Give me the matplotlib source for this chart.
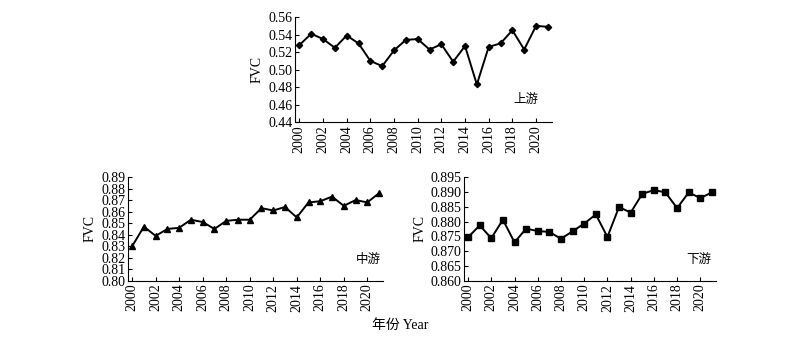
import matplotlib
matplotlib.use("Agg")
import matplotlib.pyplot as plt
import numpy as np

plt.rcParams['font.family'] = ['Liberation Serif', 'Noto Sans CJK SC']
plt.rcParams['font.size'] = 10

years = list(range(2000, 2022))
upper = [0.528, 0.541, 0.535, 0.525, 0.539, 0.530, 0.510, 0.504, 0.522, 0.534, 0.535,
         0.523, 0.529, 0.509, 0.527, 0.483, 0.526, 0.530, 0.545, 0.523, 0.550, 0.549]
middle = [0.830, 0.847, 0.839, 0.845, 0.846, 0.853, 0.851, 0.845, 0.852, 0.853, 0.853,
          0.863, 0.861, 0.864, 0.855, 0.868, 0.869, 0.873, 0.865, 0.870, 0.868, 0.876]
lower = [0.8747, 0.8787, 0.8744, 0.8806, 0.8730, 0.8776, 0.8768, 0.8765, 0.8742, 0.8767, 0.8793,
         0.8824, 0.8748, 0.8849, 0.8830, 0.8893, 0.8906, 0.8898, 0.8845, 0.8898, 0.8879, 0.8898]

upper_ticks = [0.44, 0.46, 0.48, 0.50, 0.52, 0.54, 0.56]
middle_ticks = [0.80, 0.81, 0.82, 0.83, 0.84, 0.85, 0.86, 0.87, 0.88, 0.89]
lower_ticks = [0.860, 0.865, 0.870, 0.875, 0.880, 0.885, 0.890, 0.895]
year_ticks = list(range(2000, 2022, 2))

fig = plt.figure(figsize=(8, 3.43), dpi=100)

def panel(rect, data, marker, ms, yticks, fmt, label, lpos):
    ax = fig.add_axes(rect)
    ax.plot(years, data, color='black', lw=1.4, marker=marker, ms=ms)
    ax.set_xlim(1999.65, 2021.35)
    ax.set_ylim(yticks[0], yticks[-1])
    ax.set_yticks(yticks)
    ax.set_yticklabels([fmt.format(v) for v in yticks])
    ax.set_xticks(year_ticks)
    ax.set_xticklabels([str(y) for y in year_ticks], rotation=90)
    ax.tick_params(direction='in', length=3, width=0.8, pad=2)
    for s in ['top', 'right']:
        ax.spines[s].set_visible(False)
    ax.set_ylabel('FVC', labelpad=3)
    ax.text(lpos[0], lpos[1], label, transform=ax.transAxes, ha='center', va='center', fontsize=9)
    return ax

panel([0.369, 0.644, 0.321, 0.306], upper, 'D', 3.2, upper_ticks, '{:.2f}', '上游', (0.90, 0.21))
panel([0.160, 0.181, 0.319, 0.303], middle, '^', 4.2, middle_ticks, '{:.2f}', '中游', (0.94, 0.20))
panel([0.580, 0.181, 0.315, 0.303], lower, 's', 3.8, lower_ticks, '{:.3f}', '下游', (0.93, 0.20))

fig.text(0.5, 0.052, '年份 Year', ha='center', va='center', fontsize=10)

fig.savefig('out.png', dpi=100)
